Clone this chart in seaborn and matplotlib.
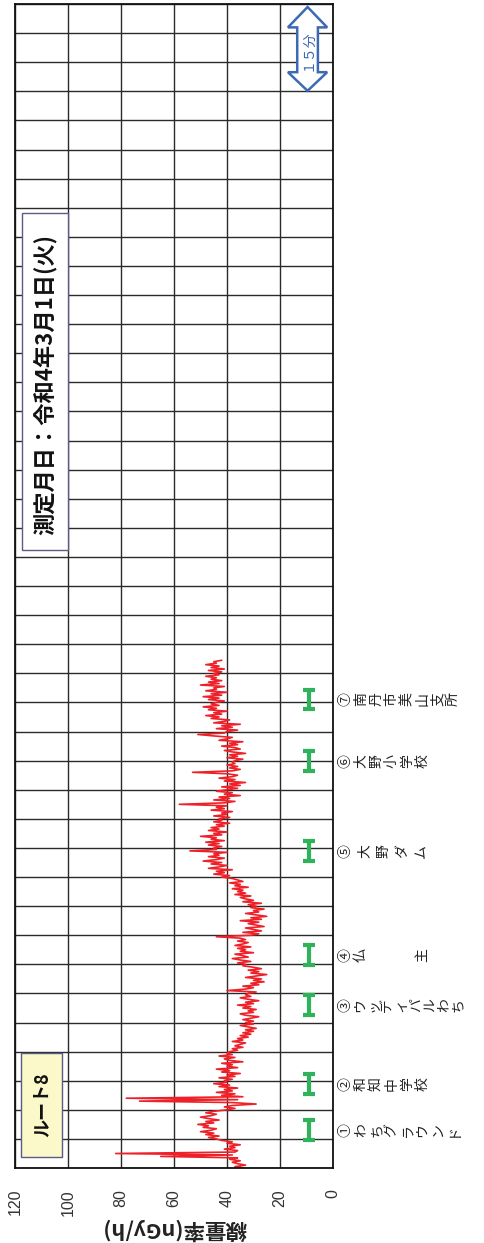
import numpy as np
import pandas as pd
import seaborn as sns
import matplotlib
matplotlib.use("Agg")
import matplotlib.pyplot as plt
from matplotlib.patches import Rectangle, Polygon
from matplotlib.transforms import blended_transform_factory

sns.set_theme(style="white")
plt.rcParams["font.family"] = ["Noto Sans CJK JP", "DejaVu Sans"]

# Air dose rate along route 8 (nGy/h), one reading every 15 seconds
SAMPLE_MIN = 0.25
dose_rate = [
    34, 37, 33, 36, 38, 35, 39, 36, 65, 38, 82, 37, 36, 41, 37, 39, 35, 40, 38, 42,
    44, 47, 43, 48, 45, 50, 46, 44, 49, 47, 51, 45, 48, 43, 47, 50, 46, 44, 48, 45,
    40, 37, 41, 38, 29, 38, 73, 36, 78, 34, 42, 37, 44, 38, 41, 36, 43, 39, 45, 40,
    41, 38, 43, 37, 40, 35, 42, 39, 44, 36, 40, 38, 42, 34, 39, 41, 37, 43, 38, 40,
    39, 36, 38, 34, 37, 35, 33, 38, 34, 36, 32, 35, 31, 34, 30, 33, 29, 32, 35, 30,
    33, 30, 34, 31, 28, 33, 35, 30, 32, 29, 34, 31, 36, 30, 33, 28, 32, 35, 31, 33,
    32, 29, 40, 33, 30, 34, 28, 31, 26, 30, 27, 33, 29, 25, 31, 28, 32, 27, 30, 34,
    33, 36, 31, 35, 38, 32, 34, 37, 30, 35, 33, 36, 31, 37, 34, 32, 36, 33, 35, 44,
    31, 28, 34, 27, 30, 33, 26, 29, 32, 28, 35, 27, 31, 25, 29, 33, 28, 30, 26, 31,
    29, 32, 27, 34, 30, 33, 35, 31, 37, 33, 36, 34, 38, 32, 37, 35, 39, 34, 36, 38,
    42, 39, 45, 41, 44, 38, 47, 43, 40, 46, 42, 49, 44, 41, 47, 43, 45, 40, 54, 44,
    45, 42, 47, 43, 48, 41, 46, 44, 50, 42, 45, 40, 47, 43, 46, 41, 44, 39, 45, 42,
    43, 39, 45, 40, 42, 38, 46, 41, 44, 40, 58, 41, 37, 45, 39, 43, 35, 41, 38, 44,
    40, 36, 42, 35, 39, 33, 41, 37, 43, 38, 36, 40, 53, 38, 35, 39, 36, 40, 37, 38,
    37, 34, 40, 36, 39, 33, 38, 41, 35, 37, 42, 36, 39, 34, 43, 40, 38, 45, 51, 41,
    40, 36, 44, 38, 42, 35, 45, 41, 39, 46, 43, 48, 42, 45, 40, 47, 44, 49, 43, 46,
    44, 41, 47, 43, 49, 42, 46, 40, 48, 44, 45, 41, 50, 43, 47, 42, 46, 44, 48, 43,
    45, 42, 47, 41, 46, 43, 48, 44, 45, 42,
]

# Measurement points along the route
station_labels = [
    "①\nわ\nち\nグ\nラ\nウ\nン\nド",
    "②\n和\n知\n中\n学\n校",
    "③\nウ\nッ\nデ\nィ\nパ\nル\nわ\nち",
    "④\n仏\n\n\n\n主",
    "⑤\n大\n野\nダ\nム",
    "⑥\n大\n野\n小\n学\n校",
    "⑦\n南\n丹\n市\n美\n山\n支\n所",
]
station_minutes = [6.5, 14.4, 28.0, 36.6, 54.5, 69.9, 80.5]
station_level = 9
station_halfspan = 1.7

dose_ticks = [0, 20, 40, 60, 80, 100, 120]
route_name = "ルート8"
date_text = "測定月日：令和4年3月1日(火)"
axis_title = "線量率(nGy/h)"

df = pd.DataFrame({
    "minutes": np.arange(len(dose_rate)) * SAMPLE_MIN,
    "dose": dose_rate,
})

fig = plt.figure(figsize=(4.85, 12.43), dpi=100)
ax = fig.add_axes([0.0309, 0.0603, 0.6557, 0.9364])

# Time runs upward, dose rate decreases to the right
ax.set_xlim(120, 0)
ax.set_ylim(0, 200)

ax.set_xticks(dose_ticks)
ax.set_yticks(np.arange(0, 201, 5))
ax.grid(True, color="#2a2a2a", linewidth=1.0)
ax.set_axisbelow(True)
ax.tick_params(axis="y", left=False, labelleft=False)
ax.tick_params(axis="x", bottom=False, pad=9)
for lbl in ax.get_xticklabels():
    lbl.set_rotation(90)
    lbl.set_fontfamily(["Liberation Sans", "DejaVu Sans"])
    lbl.set_fontsize(11.5)
    lbl.set_color("#333333")
    lbl.set_va("top")
    lbl.set_ha("center")
for sp in ax.spines.values():
    sp.set_color("#111111")
    sp.set_linewidth(1.3)

sns.lineplot(data=df, x="dose", y="minutes", sort=False, orient="y",
             estimator=None, color="#ee2028", linewidth=1.2, ax=ax)

# Station markers
eb = ax.errorbar([station_level] * len(station_minutes), station_minutes,
                 yerr=station_halfspan, fmt="none", ecolor="#2fb35a",
                 elinewidth=3, capsize=4, capthick=3, zorder=4)
for coll in eb.lines[2]:
    coll.set_capstyle("round")
for cap in eb.lines[1]:
    cap.set_solid_capstyle("round")

trans = blended_transform_factory(ax.transAxes, ax.transData)
for lab, t in zip(station_labels, station_minutes):
    if lab.startswith("⑤"):
        ls = 1.45
    elif lab.startswith("③"):
        ls = 1.0
    else:
        ls = 1.12
    ax.text(1.018, t, lab, transform=trans, rotation=90, ha="left",
            va="center", fontsize=10, color="#222222", linespacing=ls,
            multialignment="center")

ax.set_xlabel(axis_title, rotation=180, fontsize=15.5, fontweight="bold",
              color="#222222", labelpad=2)
ax.set_ylabel("")

# Route name box
ax.add_patch(Rectangle((117.7, 1.9), 102.3 - 117.7, 19.8 - 1.9,
                       facecolor="#fbf8c9", edgecolor="#5b5b85",
                       linewidth=1.0, zorder=5))
ax.text(110.0, 10.85, route_name, rotation=90, ha="center", va="center",
        fontsize=13, fontweight="bold", color="#111111", zorder=6)

# Measurement date box
ax.add_patch(Rectangle((117.5, 106.2), 99.9 - 117.5, 164.1 - 106.2,
                       facecolor="white", edgecolor="#5b5b85",
                       linewidth=1.0, zorder=5))
ax.text(108.7, 134.6, date_text, rotation=90, ha="center", va="center",
        fontsize=16, fontweight="bold", color="#111111", zorder=6)

# 15-minute scale arrow
c, hw, sw = 9.6, 7.4, 3.9
t_top, t_sh1, t_sh2, t_bot = 199.5, 196.0, 188.3, 185.1
arrow = Polygon([(c, t_top), (c + hw, t_sh1), (c + sw, t_sh1), (c + sw, t_sh2),
                 (c + hw, t_sh2), (c, t_bot), (c - hw, t_sh2), (c - sw, t_sh2),
                 (c - sw, t_sh1), (c - hw, t_sh1)],
                closed=True, facecolor="white", edgecolor="#3c6ab4",
                linewidth=1.8, zorder=5)
ax.add_patch(arrow)
ax.text(c, (t_sh1 + t_sh2) / 2, "１５分", rotation=90, ha="center", va="center",
        fontsize=10, color="#3c6ab4", zorder=6)

fig.savefig("out.png", dpi=100)
